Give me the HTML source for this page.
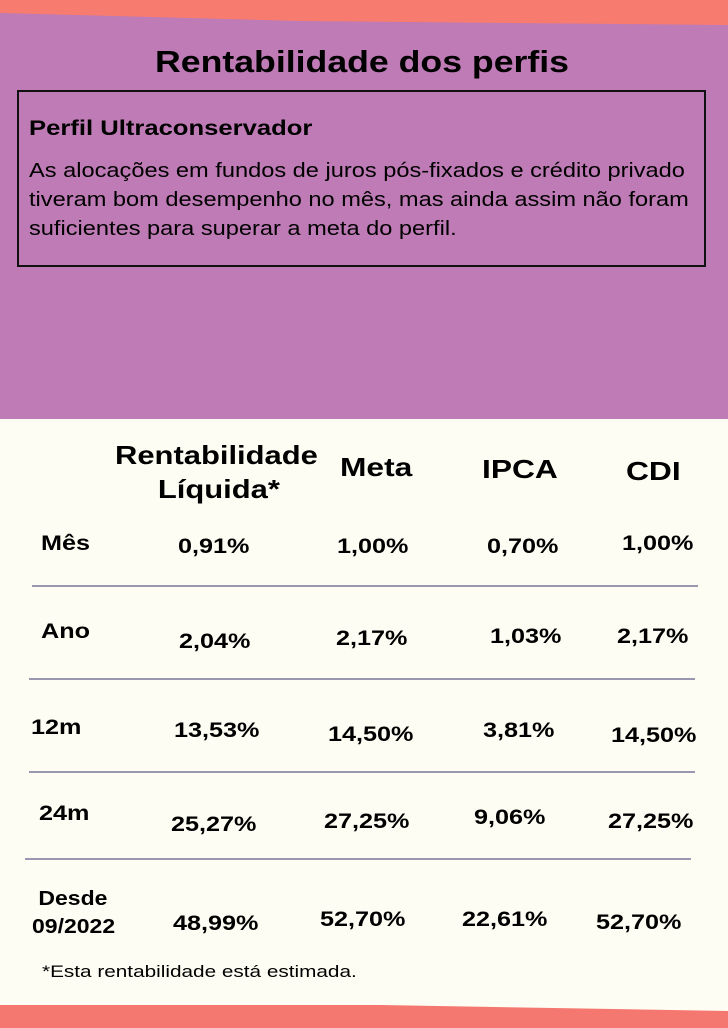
<!DOCTYPE html>
<html><head><meta charset="utf-8"><style>
body{margin:0;width:728px;height:1028px;position:relative;overflow:hidden;background:#fdfdf3;font-family:"Liberation Sans","DejaVu Sans",sans-serif;color:#000}
.a{position:absolute;white-space:nowrap}
.s{transform:scaleX(1.22);transform-origin:0 0}
.b{font-weight:bold}
.v{position:absolute;font-weight:bold;font-size:21px;white-space:nowrap;transform:scaleX(1.2);transform-origin:0 0}
.l{position:absolute;height:2px;background:#9a98b0}
</style></head><body>
<div class="a" style="left:0;top:0;width:728px;height:419px;background:#be7bb5"></div>
<svg class="a" style="left:0;top:0" width="728" height="30"><polygon points="0,0 728,0 728,25 300,21 0,13" fill="#f87b70"/></svg>
<svg class="a" style="left:0;top:1000" width="728" height="28"><polygon points="0,5 380,5 728,11 728,28 0,28" fill="#f57870"/></svg>
<div class="a b" style="left:155px;top:44px;font-size:31px;transform:scaleX(1.15);transform-origin:0 0">Rentabilidade dos perfis</div>
<div class="a" style="left:17px;top:90px;width:689px;height:177px;border:2px solid #111;box-sizing:border-box"></div>
<div class="a b s" style="left:29px;top:117px;font-size:21px">Perfil Ultraconservador</div>
<div class="a" style="left:29px;top:157px;font-size:20px;line-height:29px;transform:scaleX(1.18);transform-origin:0 0">As alocações em fundos de juros pós-fixados e crédito privado<br>tiveram bom desempenho no mês, mas ainda assim não foram<br>suficientes para superar a meta do perfil.</div>
<div class="a b" style="left:115px;top:438px;font-size:26px;line-height:34px;transform:scaleX(1.19);transform-origin:0 0">Rentabilidade<br><span style="padding-left:36px">Líquida*</span></div>
<div class="a b s" style="left:340px;top:452px;font-size:26px">Meta</div>
<div class="a b s" style="left:482px;top:454px;font-size:26px">IPCA</div>
<div class="a b s" style="left:626px;top:456px;font-size:26px">CDI</div>
<div class="v" style="left:41px;top:532px">Mês</div>
<div class="v" style="left:178px;top:535px">0,91%</div>
<div class="v" style="left:337px;top:535px">1,00%</div>
<div class="v" style="left:487px;top:535px">0,70%</div>
<div class="v" style="left:622px;top:532px">1,00%</div>
<div class="l" style="left:32px;top:585px;width:666px"></div>
<div class="v" style="left:41px;top:620px">Ano</div>
<div class="v" style="left:179px;top:630px">2,04%</div>
<div class="v" style="left:336px;top:627px">2,17%</div>
<div class="v" style="left:490px;top:625px">1,03%</div>
<div class="v" style="left:617px;top:625px">2,17%</div>
<div class="l" style="left:29px;top:678px;width:666px"></div>
<div class="v" style="left:31px;top:716px">12m</div>
<div class="v" style="left:174px;top:719px">13,53%</div>
<div class="v" style="left:328px;top:723px">14,50%</div>
<div class="v" style="left:483px;top:719px">3,81%</div>
<div class="v" style="left:611px;top:724px">14,50%</div>
<div class="l" style="left:29px;top:771px;width:666px"></div>
<div class="v" style="left:39px;top:802px">24m</div>
<div class="v" style="left:171px;top:813px">25,27%</div>
<div class="v" style="left:324px;top:810px">27,25%</div>
<div class="v" style="left:474px;top:806px">9,06%</div>
<div class="v" style="left:608px;top:810px">27,25%</div>
<div class="l" style="left:25px;top:858px;width:666px"></div>
<div class="a b" style="left:32px;top:885px;font-size:20px;line-height:28px;transform:scaleX(1.15);transform-origin:0 0">&nbsp;Desde<br>09/2022</div>
<div class="v" style="left:173px;top:912px">48,99%</div>
<div class="v" style="left:320px;top:908px">52,70%</div>
<div class="v" style="left:462px;top:908px">22,61%</div>
<div class="v" style="left:596px;top:911px">52,70%</div>
<div class="a s" style="left:42px;top:962px;font-size:17px">*Esta rentabilidade está estimada.</div>
</body></html>
